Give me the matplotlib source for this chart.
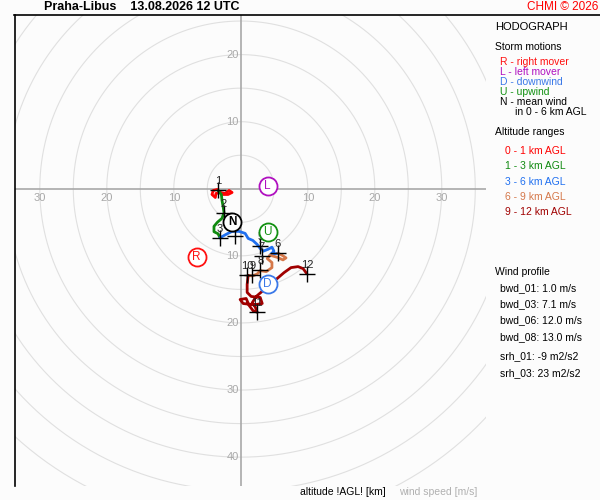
import numpy as np
import matplotlib
matplotlib.use('Agg')
import matplotlib.pyplot as plt
from matplotlib.lines import Line2D

plt.rcParams['font.family'] = ['Liberation Sans', 'DejaVu Sans']

# hodograph traces (u, v) in m/s, per altitude range
u_0_1 = [-3.5, -4.1, -4.3, -3.8, -3.7, -3.1, -2.35, -1.75, -1.3, -1.9, -2.8, -3.4]
v_0_1 = [-0.1, -0.25, -0.85, -1.3, -0.7, -0.55, -0.7, -0.25, -0.55, -0.85, -0.85, -0.25]
u_1_3 = [-3.4, -2.9, -2.8, -2.65, -2.5, -2.8, -3.5, -4.0, -4.0, -3.4, -3.1]
v_1_3 = [-0.25, -0.85, -1.75, -2.6, -3.55, -4.4, -5.0, -5.6, -6.4, -6.7, -7.3]
u_3_6 = [-3.1, -2.2, -1.3, -0.25, 0.65, 1.1, 1.8, 2.45, 2.9, 3.35, 4.1, 4.65, 4.95, 4.35, 5.1, 5.55]
v_3_6 = [-7.3, -6.8, -6.35, -6.35, -6.65, -7.4, -7.7, -8.3, -8.9, -9.3, -9.0, -8.7, -9.3, -9.9, -9.7, -9.6]
u_6_9 = [5.55, 6.15, 6.75, 6.3, 5.4, 4.35, 3.95, 4.65, 4.65, 3.8, 2.9, 2.45, 1.7, 1.1]
v_6_9 = [-9.6, -9.9, -10.3, -10.6, -10.2, -9.9, -10.4, -11.0, -11.75, -12.35, -12.2, -12.7, -13.0, -12.9]
u_9_12 = [1.1, 0.95, 0.95, 1.55, 2.9, 3.2, 2.0, 0.35, -0.1, 0.8, 1.25, 1.85, 2.45,
          2.15, 1.7, 2.3, 3.35, 4.35, 5.4, 6.45, 7.5, 8.55, 9.3, 9.85]
v_9_12 = [-12.9, -14.25, -15.45, -16.05, -16.2, -17.1, -17.3, -17.1, -16.5, -16.35, -17.4, -18.2, -18.4,
          -17.6, -17.0, -16.05, -15.15, -14.25, -13.4, -12.5, -11.75, -11.6, -11.9, -12.65]

# altitude markers every km
alt_km = [1, 2, 3, 4, 5, 6, 7, 8, 9, 10, 11, 12]
alt_u = [-3.4, -2.5, -3.1, -0.9, 2.9, 5.55, 3.1, 2.9, 1.7, 0.95, 2.45, 9.9]
alt_v = [-0.15, -3.6, -7.3, -7.1, -8.6, -9.6, -10.0, -12.1, -12.9, -12.9, -18.4, -12.7]

# storm motions
storm_names = ['R', 'L', 'D', 'U', 'N']
storm_u = [-6.6, 4.0, 4.0, 4.0, -1.25]
storm_v = [-10.2, 0.4, -14.2, -6.5, -5.0]
storm_colors = ['#ff1010', '#b010c0', '#3a78e8', '#109010', '#000000']

layer_colors = ['#ff0000', '#108a10', '#2070f0', '#d5784a', '#a00000']
layer_labels = ['0 - 1 km AGL', '1 - 3 km AGL', '3 - 6 km AGL', '6 - 9 km AGL', '9 - 12 km AGL']

wind_profile = ['bwd_01: 1.0 m/s', 'bwd_03: 7.1 m/s', 'bwd_06: 12.0 m/s', 'bwd_08: 13.0 m/s']
srh_profile = ['srh_01: -9 m2/s2', 'srh_03: 23 m2/s2']

fig = plt.figure(figsize=(6, 5), dpi=100)
fig.patch.set_facecolor('#fcfcfc')
ax = fig.add_axes([15 / 600, 14 / 500, 471 / 600, 471 / 500])
ax.set_facecolor('#fcfcfc')
ax.set_xlim(-33.7, 36.6)
ax.set_ylim(-44.3, 25.9)
ax.set_xticks([])
ax.set_yticks([])
for s in ['top', 'right', 'bottom']:
    ax.spines[s].set_visible(False)
ax.spines['left'].set_color('black')
ax.spines['left'].set_linewidth(1.2)

# rings
t = np.linspace(0, 2 * np.pi, 400)
for r in range(5, 55, 5):
    ax.plot(r * np.cos(t), r * np.sin(t), color='#e0e0e0', lw=0.8, zorder=1)
ax.axhline(0, color='#a8a8a8', lw=1.2, zorder=2)
ax.axvline(0, color='#a8a8a8', lw=1.2, zorder=2)

tick_col = '#a8a8a8'
for r in [10, 20, 30]:
    ax.text(-r, -1.4, str(r), color=tick_col, fontsize=8, ha='center', va='center', zorder=3)
    ax.text(r, -1.4, str(r), color=tick_col, fontsize=8, ha='center', va='center', zorder=3)
for r in [10, 20]:
    ax.text(-0.3, r, str(r), color=tick_col, fontsize=8, ha='right', va='center', zorder=3)
for r in [10, 20, 30, 40]:
    ax.text(-0.3, -r, str(r), color=tick_col, fontsize=8, ha='right', va='center', zorder=3)

# traces
traces = [(u_0_1, v_0_1), (u_1_3, v_1_3), (u_3_6, v_3_6), (u_6_9, v_6_9), (u_9_12, v_9_12)]
for (uu, vv), c in zip(traces, layer_colors):
    ax.plot(uu, vv, color=c, lw=2.0, zorder=4, solid_capstyle='round', solid_joinstyle='round')

# altitude crosses and labels
ax.plot(alt_u, alt_v, linestyle='none', marker='+', markersize=12, mew=1.0, color='black', zorder=5)
for k, uu, vv in zip(alt_km, alt_u, alt_v):
    ax.annotate(str(k), (uu, vv), xytext=(0, 9), textcoords='offset pixels',
                ha='center', va='center', fontsize=8, color='#222222', zorder=5)

# storm motion circles
for name, uu, vv, c in zip(storm_names, storm_u, storm_v, storm_colors):
    ax.plot(uu, vv, marker='o', markersize=13, mfc='white', mec=c, mew=1.3, zorder=6)
    ax.text(uu, vv, name, color=c, fontsize=8.5, ha='center', va='center', zorder=7,
            fontweight='bold' if name == 'N' else 'normal')

# frame top line
fig.add_artist(Line2D([14 / 600, 1.0], [485 / 500, 485 / 500], color='black', lw=1.2))


def fy(y):
    return 1 - y / 500


fig.text(44 / 600, fy(7), 'Praha-Libus    13.08.2026 12 UTC', fontsize=9, fontweight='bold', va='center')
fig.text(598 / 600, fy(7), 'CHMI © 2026', fontsize=8.5, color='#ff0000', ha='right', va='center')

fig.text(495 / 600, fy(27), 'HODOGRAPH', fontsize=8, va='center')
fig.text(495 / 600, fy(47), 'Storm motions', fontsize=7.5, va='center')
storm_text = ['R - right mover', 'L - left mover', 'D - downwind', 'U - upwind', 'N - mean wind']
for i, (txt, c) in enumerate(zip(storm_text, storm_colors)):
    fig.text(500 / 600, fy(62 + 10 * i), txt, fontsize=7.5, color=c, va='center')
fig.text(515 / 600, fy(112), 'in 0 - 6 km AGL', fontsize=7.5, va='center')

fig.text(495 / 600, fy(132), 'Altitude ranges', fontsize=7.5, va='center')
for i, (txt, c) in enumerate(zip(layer_labels, layer_colors)):
    fig.text(505 / 600, fy(151 + 15.3 * i), txt, fontsize=7.5, color=c, va='center')

fig.text(495 / 600, fy(272), 'Wind profile', fontsize=7.5, va='center')
for i, txt in enumerate(wind_profile):
    fig.text(500 / 600, fy(288 + 16.3 * i), txt, fontsize=7.5, va='center')
for i, txt in enumerate(srh_profile):
    fig.text(500 / 600, fy(356 + 17 * i), txt, fontsize=7.5, va='center')

fig.text(300 / 600, fy(492), 'altitude !AGL! [km]', fontsize=7.5, va='center')
fig.text(399 / 600, fy(492), 'wind speed [m/s]', fontsize=7.5, color='#b0b0b0', va='center')

fig.savefig('out.png', dpi=100, facecolor=fig.get_facecolor())
